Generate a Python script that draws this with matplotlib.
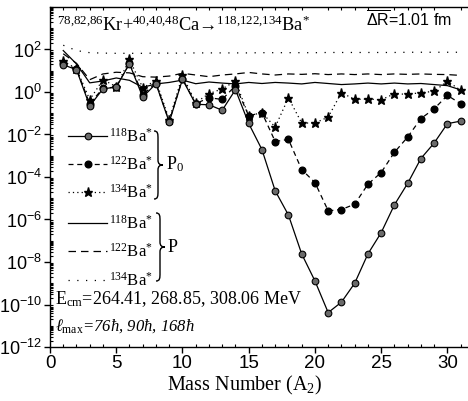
import numpy as np
import matplotlib
matplotlib.use("Agg")
import matplotlib.pyplot as plt
from matplotlib.lines import Line2D
from matplotlib.path import Path
from matplotlib.patches import PathPatch
from matplotlib.ticker import FixedLocator, LogLocator, FuncFormatter, MultipleLocator

plt.rcParams['mathtext.fontset'] = 'custom'
plt.rcParams['mathtext.rm'] = 'Liberation Serif'
plt.rcParams['mathtext.it'] = 'Liberation Serif:italic'
plt.rcParams['mathtext.sf'] = 'Liberation Sans'
plt.rcParams['font.family'] = ['Liberation Serif', 'DejaVu Sans']

# ---- data (log10 values) ----
A2 = np.arange(1, 32)

p0_118 = [1.28, 1.05, -0.66, 0.15, 0.23, 1.33, -0.24, 0.39, -1.42, 0.60,
          -0.58, -0.60, -0.86, 0.11, -1.48, -2.71, -4.65, -5.79, -7.62, -8.89,
          -10.38, -9.89, -9.00, -7.62, -6.62, -5.31, -4.30, -3.13, -2.40, -1.49, -1.37]
p0_122 = [1.35, 1.08, -0.55, 0.18, 0.23, 1.35, -0.12, 0.42, -1.38, 0.62,
          -0.55, -0.27, -0.35, 0.30, -1.12, -0.97, -2.33, -2.23, -3.65, -4.26,
          -5.59, -5.53, -5.28, -4.34, -3.79, -2.84, -2.12, -1.25, -0.79, -0.16, -0.55]
p0_134 = [1.45, 1.10, -0.36, 0.58, 0.25, 1.53, 0.20, 0.54, -1.30, 0.78,
          -0.50, -0.08, 0.15, 0.51, -1.12, -0.97, -1.65, -0.27, -1.46, -1.46,
          -1.18, -0.03, -0.35, -0.33, -0.37, -0.08, -0.11, -0.03, 0.03, 0.51, 0.08]
p_118 = [1.95, 1.32, 0.43, 0.52, 0.66, 0.55, 0.22, 0.38, 0.45, 0.56,
         0.39, 0.47, 0.42, 0.38, 0.45, 0.40, 0.45, 0.42, 0.38, 0.45,
         0.40, 0.35, 0.38, 0.42, 0.38, 0.42, 0.38, 0.40, 0.35, 0.30, 0.10]
p_122 = [1.80, 1.35, 0.58, 0.85, 0.93, 0.90, 0.72, 0.70, 0.75, 0.88,
         0.80, 0.72, 0.80, 0.85, 0.92, 0.85, 0.80, 0.85, 0.83, 0.86,
         0.82, 0.85, 0.82, 0.85, 0.82, 0.85, 0.83, 0.85, 0.83, 0.82, 0.78]
p_134 = [2.20, 1.95, 1.85, 1.83, 1.82, 1.82, 1.82, 1.83, 1.83, 1.83,
         1.84, 1.84, 1.84, 1.84, 1.84, 1.85, 1.85, 1.85, 1.85, 1.85,
         1.86, 1.86, 1.86, 1.86, 1.86, 1.86, 1.87, 1.87, 1.87, 1.87, 1.87]

xticks = [0, 5, 10, 15, 20, 25, 30]
yexp = [-12, -10, -8, -6, -4, -2, 0, 2]

W, H = 468, 401
fig = plt.figure(figsize=(W / 100, H / 100), dpi=100)
ax = fig.add_axes([50 / W, 1 - 347 / H, (W - 50) / W + 0.01, (347 - 7) / H])

def tv(v):
    return 10.0 ** np.asarray(v)

ball = dict(marker='o', ms=4.8, mfc='#6a6a6a', mec='black', mew=0.8)
dot = dict(marker='o', ms=4.8, mfc='black', mec='black')
star = dict(marker='*', ms=6.8, mfc='black', mec='black')

LS_P134 = (0, (1, 6))
LS_P122 = (0, (6, 4))
LS_P0_134 = (0, (1, 2.5))
LS_P0_122 = (0, (4, 3))

ax.plot(A2, tv(p_134), color='black', lw=0.9, ls=LS_P134)
ax.plot(A2, tv(p_122), color='black', lw=0.9, ls=LS_P122)
ax.plot(A2, tv(p_118), color='black', lw=0.9, ls='-')
ax.plot(A2, tv(p0_134), color='black', lw=0.9, ls=LS_P0_134, **star)
ax.plot(A2, tv(p0_122), color='black', lw=0.9, ls=LS_P0_122, **dot)
ax.plot(A2, tv(p0_118), color='black', lw=0.9, ls='-', **ball)

ax.set_yscale('log')
ax.set_xlim(0, (W - 50) / 13.1)
ax.set_ylim(1e-12, 1e4)
ax.spines['right'].set_visible(False)
for s in ['left', 'bottom', 'top']:
    ax.spines[s].set_linewidth(1.0)

ax.xaxis.set_major_locator(FixedLocator(xticks))
ax.xaxis.set_minor_locator(MultipleLocator(1))
ax.yaxis.set_major_locator(FixedLocator([10.0 ** e for e in yexp]))
ax.yaxis.set_minor_locator(LogLocator(base=10, subs=np.arange(1, 10), numticks=100))
ax.yaxis.set_major_formatter(FuncFormatter(lambda v, p: r'$\mathsf{10^{%d}}$' % int(round(np.log10(v)))))
ax.yaxis.set_minor_formatter(FuncFormatter(lambda v, p: ''))
ax.xaxis.set_major_formatter(FuncFormatter(lambda v, p: '%d' % v))
ax.tick_params(which='major', direction='out', length=4, width=1, top=False, right=False,
               labelsize=13, pad=2)
ax.tick_params(which='minor', direction='in', length=2.5, width=0.8, top=True, right=False)
for lab in ax.get_xticklabels():
    lab.set_family('Liberation Sans')
ax.tick_params(axis='x', labelsize=13.5)

fig.text(245 / W, 1 - 390 / H, r'Mass Number (A$_{2}$)', fontsize=14.5, ha='center',
         va='baseline')

# Reaction text
fig.text(57 / W, 1 - 31 / H,
         r'$^{78{,}82{,}86}$Kr+$^{40{,}40{,}48}$Ca→$^{118{,}122{,}134}$Ba$^{*}$',
         fontsize=13.2, ha='left', va='baseline')
fig.text(366 / W, 1 - 27 / H, r'$\mathsf{\overline{\Delta R}}$=1.01 fm',
         family='Liberation Sans', fontsize=11.5, ha='left', va='baseline')

# Manual legend
def fx(px):
    return px / W

def fy(py):
    return 1 - py / H

rows = [
    (136, '-', ball, r'$^{118}$Ba$^{*}$'),
    (164, LS_P0_122, dot, r'$^{122}$Ba$^{*}$'),
    (192, LS_P0_134, star, r'$^{134}$Ba$^{*}$'),
    (223, '-', None, r'$^{118}$Ba$^{*}$'),
    (251, LS_P122, None, r'$^{122}$Ba$^{*}$'),
    (280, LS_P134, None, r'$^{134}$Ba$^{*}$'),
]
for py, ls, mk, lab in rows:
    fig.add_artist(Line2D([fx(68), fx(107)], [fy(py), fy(py)], color='black', lw=0.9, ls=ls))
    if mk is not None:
        fig.add_artist(Line2D([fx(88)], [fy(py)], ls='none', **mk))
    fig.text(fx(109), fy(py + 6), lab, fontsize=12, ha='left', va='baseline')


def brace(x0, yt, yb):
    ym = 0.5 * (yt + yb)
    pts = [(x0, yt), (x0 + 4, yt), (x0 + 4, yt + 3), (x0 + 4, yt + 8),
           (x0 + 4, ym - 5),
           (x0 + 4, ym - 1), (x0 + 6, ym), (x0 + 9, ym),
           (x0 + 6, ym), (x0 + 4, ym + 1), (x0 + 4, ym + 5),
           (x0 + 4, yb - 8),
           (x0 + 4, yb - 3), (x0 + 4, yb), (x0, yb)]
    codes = [Path.MOVETO, Path.CURVE4, Path.CURVE4, Path.CURVE4, Path.LINETO,
             Path.CURVE4, Path.CURVE4, Path.CURVE4,
             Path.CURVE4, Path.CURVE4, Path.CURVE4, Path.LINETO,
             Path.CURVE4, Path.CURVE4, Path.CURVE4]
    verts = [(fx(x), fy(y)) for x, y in pts]
    fig.add_artist(PathPatch(Path(verts, codes), fill=False, lw=1.0, ec='black',
                             transform=fig.transFigure))

brace(154, 131, 199)
fig.text(fx(166), fy(169), r'P$_{0}$', fontsize=13, ha='left', va='baseline')
brace(156, 213, 281)
fig.text(fx(168), fy(252), 'P', fontsize=13, ha='left', va='baseline')

fig.text(fx(55), fy(304), r'E$_{\mathrm{cm}}$=264.41, 268.85, 308.06 MeV', fontsize=13,
         ha='left', va='baseline')
fig.text(fx(55), fy(331), r'$\ell_{\mathrm{max}}$=76$\hbar$, 90$\hbar$, 168$\hbar$',
         fontsize=12, ha='left', va='baseline', style='italic')

fig.savefig('out.png', dpi=100)
